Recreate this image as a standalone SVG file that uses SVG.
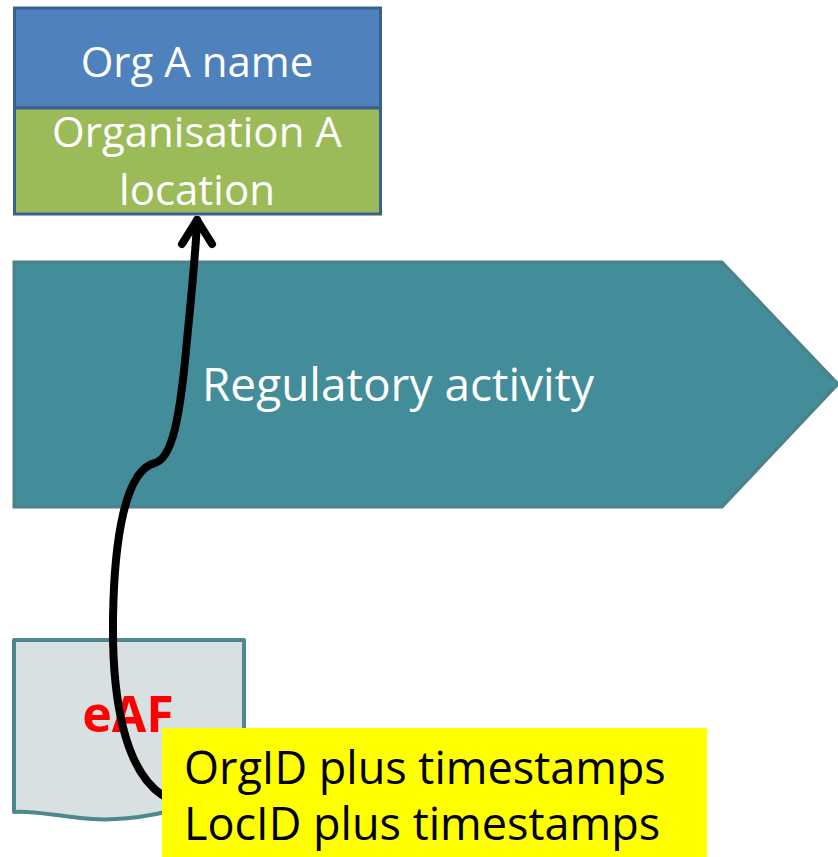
<svg xmlns="http://www.w3.org/2000/svg" width="838" height="857" viewBox="0 0 838 857">
<style>
.wt{font-family:"Open Sans","Noto Sans",sans-serif;fill:#fff;text-anchor:middle}
.bk{font-family:"Open Sans","Noto Sans",sans-serif;fill:#000}
</style>
<rect width="838" height="857" fill="#fff"/>
<g id="org">
<rect x="14.5" y="8" width="366" height="100" fill="#4F81BD" stroke="#3B5F8E" stroke-width="3"/>
<rect x="14.5" y="108" width="366" height="106" fill="#9BBB59" stroke="#3B5F8E" stroke-width="3"/>
<text class="wt" x="197" y="77" font-size="42">Org A name</text>
<text class="wt" x="197" y="147" font-size="42">Organisation A</text>
<text class="wt" x="197" y="205" font-size="42">location</text>
</g>
<g id="activity">
<path d="M14,262 H722 L838,384 L722,507 H14 Z" fill="#428D99" stroke="#4D8088" stroke-width="3"/>
<text class="wt" x="398" y="401" font-size="46">Regulatory activity</text>
</g>
<g id="eaf">
<path d="M14,640 H244 V790 C190,805 140,825 80,818 C50,815 30,810 14,812 Z" fill="#D9E0E1" stroke="#4F8790" stroke-width="4" stroke-linejoin="round"/>
<text x="128" y="732" font-size="50" font-weight="bold" fill="#FF0000" text-anchor="middle" font-family="'Open Sans','Noto Sans',sans-serif">eAF</text>
</g>
<g id="connectors">
<path d="M162,795 C125,770 112,700 113,620 C114,540 125,470 155,463 C172,458 180,420 187,340 C192,290 196,250 197,220" fill="none" stroke="#000" stroke-width="8" stroke-linecap="round"/>
<polyline points="182,244 197,220 212,244" fill="none" stroke="#000" stroke-width="8" stroke-linecap="round" stroke-linejoin="round"/>
</g>
<g id="note">
<rect x="162" y="728" width="545" height="129" fill="#FFFF00"/>
<text class="bk" x="184" y="784" font-size="45">OrgID plus timestamps</text>
<text class="bk" x="184" y="840" font-size="45">LocID plus timestamps</text>
</g>
</svg>
